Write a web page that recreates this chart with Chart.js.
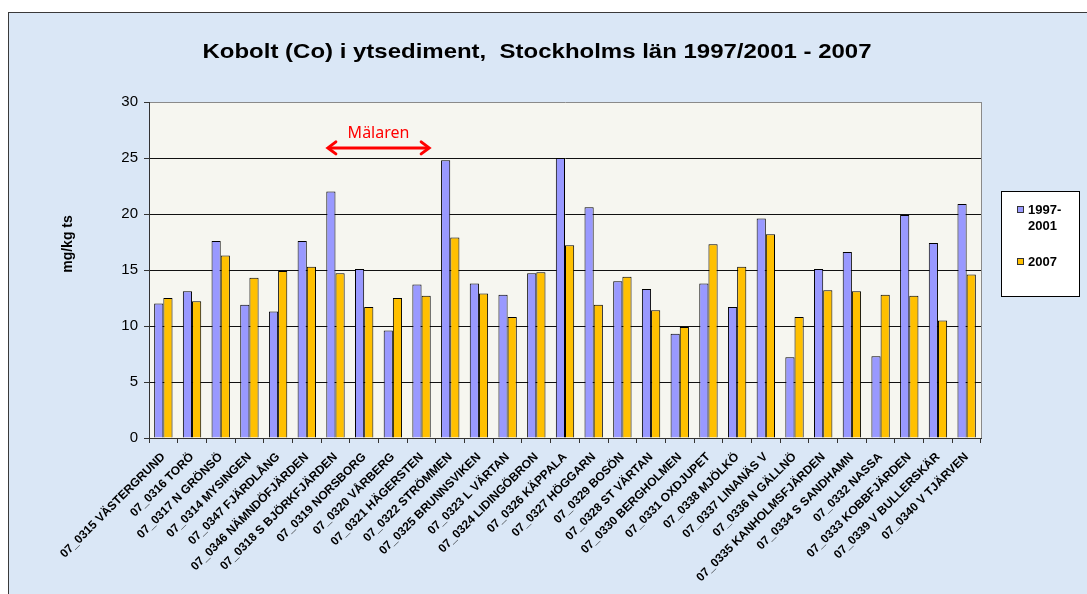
<!DOCTYPE html>
<html>
<head>
<meta charset="utf-8">
<script src="https://cdn.jsdelivr.net/npm/chart.js@4/dist/chart.umd.min.js"></script>
<style>
  body { margin: 0; background: #fff; }
  canvas { display: block; }
</style>
</head>
<body>
<canvas id="chart1" width="1087" height="594"></canvas>
<script>
var stations = ['07_0315 VÄSTERGRUND', '07_0316 TORÖ', '07_0317 N GRÖNSÖ', '07_0314 MYSINGEN', '07_0347 FJÄRDLÅNG',
    '07_0346 NÄMNDÖFJÄRDEN', '07_0318 S BJÖRKFJÄRDEN', '07_0319 NORSBORG', '07_0320 VÅRBERG', '07_0321 HÄGERSTEN',
    '07_0322 STRÖMMEN', '07_0325 BRUNNSVIKEN', '07_0323 L VÄRTAN', '07_0324 LIDINGÖBRON', '07_0326 KÄPPALA',
    '07_0327 HÖGGARN', '07_0329 BOSÖN', '07_0328 ST VÄRTAN', '07_0330 BERGHOLMEN', '07_0331 OXDJUPET',
    '07_0338 MJÖLKÖ', '07_0337 LINANÄS V', '07_0336 N GÄLLNÖ', '07_0335 KANHOLMSFJÄRDEN', '07_0334 S SANDHAMN',
    '07_0332 NASSA', '07_0333 KOBBFJÄRDEN', '07_0339 V BULLERSKÄR', '07_0340 V TJÄRVEN'];
var co1997 = [12.0, 13.1, 17.6, 11.9, 11.3, 17.6, 22.0, 15.1, 9.6, 13.7, 24.8, 13.8, 12.8, 14.7, 25.0,
    20.6, 14.0, 13.3, 9.3, 13.8, 11.7, 19.6, 7.2, 15.1, 16.6, 7.3, 19.9, 17.4, 20.9];
var co2007 = [12.5, 12.2, 16.3, 14.3, 14.9, 15.3, 14.7, 11.7, 12.5, 12.7, 17.9, 12.9, 10.8, 14.8, 17.2,
    11.9, 14.4, 11.4, 9.9, 17.3, 15.3, 18.2, 10.8, 13.2, 13.1, 12.8, 12.7, 10.5, 14.6];
var seriesNames = [['1997-', '2001'], ['2007']];
var yTicks = [0, 5, 10, 15, 20, 25, 30];
var malarenFrom = 6, malarenTo = 9;

var FONT = '"Liberation Sans", Arial, sans-serif';
var blue = '#9999FF', orange = '#FFC000';

var decor = {
    id: 'decor',
    beforeDraw: function (chart) {
        var c = chart.ctx, a = chart.chartArea;
        c.save();
        c.fillStyle = '#fff';
        c.fillRect(0, 0, chart.width, chart.height);
        c.fillStyle = '#DAE7F6';
        c.fillRect(8, 12, chart.width, chart.height);
        c.strokeStyle = '#3a3a3a';
        c.lineWidth = 1;
        c.strokeRect(8.5, 12.5, chart.width + 10, chart.height + 10);
        c.fillStyle = '#F6F6F0';
        c.fillRect(a.left, a.top, a.right - a.left, a.bottom - a.top);
        c.restore();
    },
    afterDraw: function (chart) {
        var c = chart.ctx, a = chart.chartArea, x = chart.scales.x, y = chart.scales.y;
        c.save();
        // right border of plot
        c.strokeStyle = '#8a8a8a';
        c.lineWidth = 1;
        c.beginPath();
        c.moveTo(a.right + 0.5, a.top);
        c.lineTo(a.right + 0.5, a.bottom);
        c.stroke();

        // title, widened like the original
        var title = 'Kobolt (Co) i ytsediment,  Stockholms län 1997/2001 - 2007';
        c.fillStyle = '#000';
        c.font = 'bold 21px ' + FONT;
        c.textAlign = 'center';
        c.textBaseline = 'middle';
        var tw = c.measureText(title).width;
        c.save();
        c.translate(537, 52);
        c.scale(669 / tw, 1);
        c.fillText(title, 0, 0);
        c.restore();

        // y axis title
        c.save();
        c.translate(68, 244);
        c.rotate(-Math.PI / 2);
        c.font = 'bold 14px ' + FONT;
        c.fillText('mg/kg ts', 0, 0);
        c.restore();

        // legend
        c.fillStyle = '#fff';
        c.fillRect(1001, 191, 78, 105);
        c.strokeStyle = '#000';
        c.strokeRect(1001.5, 191.5, 78, 105);
        var cols = [blue, orange], rows = [210, 262];
        c.font = 'bold 13px ' + FONT;
        c.textAlign = 'left';
        c.textBaseline = 'middle';
        for (var i = 0; i < 2; i++) {
            c.fillStyle = cols[i];
            c.fillRect(1018, rows[i] - 3, 6, 6);
            c.strokeStyle = '#333';
            c.strokeRect(1017.5, rows[i] - 3.5, 6, 6);
            c.fillStyle = '#000';
            seriesNames[i].forEach(function (t, k) {
                c.fillText(t, 1028, rows[i] + k * 16);
            });
        }

        // Mälaren arrow
        var step = x.getPixelForValue(1) - x.getPixelForValue(0);
        var x0 = x.getPixelForValue(malarenFrom) - step * 0.3;
        var x1 = x.getPixelForValue(malarenTo) + step * 0.3;
        var ya = y.getPixelForValue(25.9);
        c.strokeStyle = '#FF0000';
        c.fillStyle = '#FF0000';
        c.lineWidth = 3;
        c.beginPath();
        c.moveTo(x0 + 2, ya);
        c.lineTo(x1 - 2, ya);
        c.stroke();
        c.lineCap = 'round';
        c.beginPath();
        c.moveTo(x0 + 9, ya - 6); c.lineTo(x0 + 1, ya); c.lineTo(x0 + 9, ya + 6);
        c.moveTo(x1 - 9, ya - 6); c.lineTo(x1 - 1, ya); c.lineTo(x1 - 9, ya + 6);
        c.stroke();
        c.font = '16px "Noto Sans", sans-serif';
        c.textAlign = 'center';
        c.textBaseline = 'alphabetic';
        c.fillText('Mälaren', (x0 + x1) / 2, y.getPixelForValue(26.8));
        c.restore();
    }
};

var ctx = document.getElementById('chart1');
var chart = new Chart(ctx, {
    type: 'bar',
    data: {
        labels: stations,
        datasets: [{
            label: seriesNames[0].join(''),
            backgroundColor: blue,
            borderColor: '#000',
            borderWidth: 1,
            data: co1997
        }, {
            label: seriesNames[1].join(''),
            backgroundColor: orange,
            borderColor: '#000',
            borderWidth: 1,
            data: co2007
        }]
    },
    options: {
        responsive: false,
        animation: false,
        devicePixelRatio: 1,
        layout: { padding: { left: 58, right: 106, top: 102, bottom: 0 } },
        datasets: { bar: { categoryPercentage: 0.64, barPercentage: 1.0 } },
        plugins: {
            legend: { display: false },
            tooltip: { enabled: false }
        },
        scales: {
            x: {
                afterFit: function (s) { s.height = 156; },
                grid: { offset: true, drawOnChartArea: false, drawTicks: true, tickLength: 5, color: '#333' },
                border: { color: '#333' },
                ticks: {
                    autoSkip: false, maxRotation: 45, minRotation: 45, padding: 7,
                    color: '#000', font: { family: FONT, size: 12, weight: 'bold' }
                }
            },
            y: {
                min: 0, max: 30,
                afterFit: function (s) { s.width = 91; },
                afterBuildTicks: function (s) { s.ticks = yTicks.map(function (v) { return { value: v }; }); },
                grid: {
                    color: function (g) { return g.tick && g.tick.value === 30 ? '#8a8a8a' : '#111'; },
                    tickLength: 5, tickColor: '#333'
                },
                border: { color: '#333' },
                ticks: { padding: 6, color: '#000', font: { family: FONT, size: 15 } }
            }
        }
    },
    plugins: [decor]
});
</script>
</body>
</html>
